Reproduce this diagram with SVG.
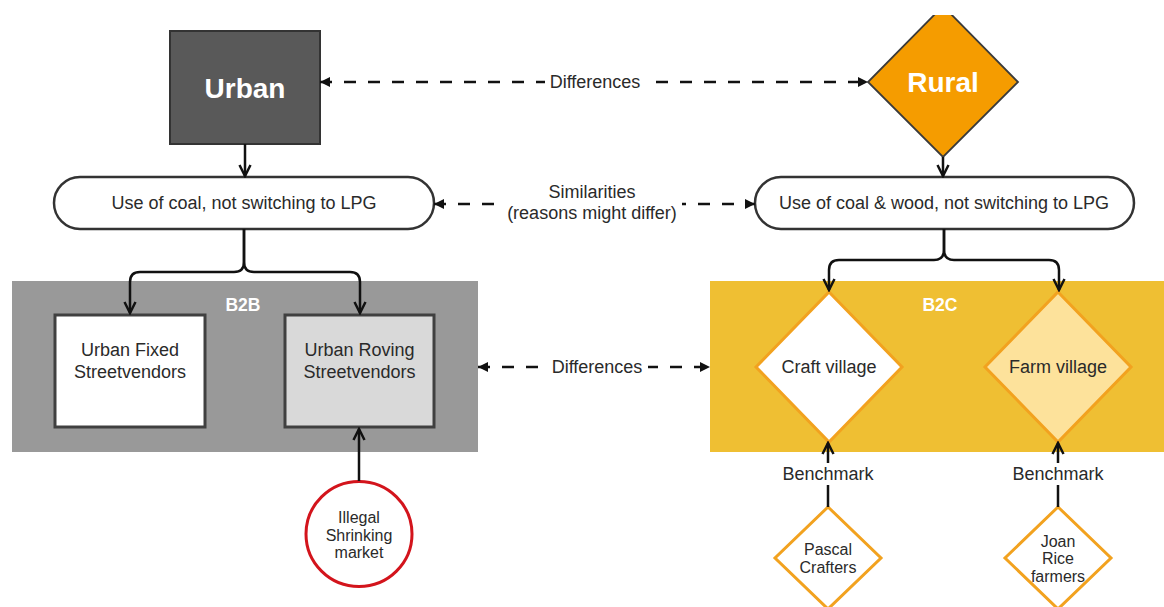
<svg xmlns="http://www.w3.org/2000/svg" width="1164" height="607" viewBox="0 0 1164 607">
<style>
  text { font-family: "Liberation Sans", Arial, sans-serif; fill: #2a2a2a; }
  .t18 { font-size: 18px; text-anchor: middle; }
  .t16 { font-size: 16px; text-anchor: middle; }
  .big { font-size: 28px; font-weight: bold; fill: #ffffff; text-anchor: middle; }
  .lab { font-size: 17.5px; font-weight: bold; fill: #ffffff; text-anchor: middle; }
  .solid { fill: none; stroke: #111; stroke-width: 2.5; marker-end: url(#open); }
  .dash { fill: none; stroke: #111; stroke-width: 2.5; stroke-dasharray: 12 12; marker-start: url(#tri); marker-end: url(#tri); }
  .pill { fill: #ffffff; stroke: #333; stroke-width: 2.5; }
  .box { stroke: #404040; stroke-width: 3; }
  .odia { stroke: #f2a21f; stroke-width: 3; }
  .bg { fill: #ffffff; }
</style>
<defs>
  <marker id="open" viewBox="0 0 14 14" refX="12" refY="7" markerWidth="14" markerHeight="14" markerUnits="userSpaceOnUse" orient="auto">
    <path d="M1,1.5 L12,7 L1,12.5" fill="none" stroke="#111" stroke-width="2.5"/>
  </marker>
  <marker id="tri" viewBox="0 0 10 10" refX="10" refY="5" markerWidth="10" markerHeight="11" markerUnits="userSpaceOnUse" orient="auto-start-reverse">
    <path d="M0,0 L10,5 L0,10 Z" fill="#111"/>
  </marker>
  <clipPath id="topclip"><rect x="0" y="15" width="1164" height="592"/></clipPath>
</defs>
<rect width="1164" height="607" fill="#ffffff"/>

<g id="b2b-container">
  <rect x="12" y="281" width="466" height="171" fill="#999999"/>
  <text class="lab" x="243" y="311">B2B</text>
</g>
<g id="b2c-container">
  <rect x="710" y="281" width="454" height="171" fill="#efbf33"/>
  <text class="lab" x="940" y="311">B2C</text>
</g>

<g id="urban">
  <rect x="170" y="31" width="150" height="113" fill="#595959" stroke="#333" stroke-width="2"/>
  <text class="big" x="245" y="98">Urban</text>
</g>
<g id="rural">
  <polygon points="943,6 1018,82 943,157 868,82" fill="#f59c00" stroke="#3a3a3a" stroke-width="1.8" clip-path="url(#topclip)"/>
  <text class="big" x="943" y="92">Rural</text>
</g>
<g id="urban-use">
  <rect class="pill" x="54" y="177" width="380" height="52" rx="26"/>
  <text class="t18" x="244" y="209">Use of coal, not switching to LPG</text>
</g>
<g id="rural-use">
  <rect class="pill" x="755" y="177" width="379" height="52" rx="26"/>
  <text class="t18" x="944" y="209">Use of coal &amp; wood, not switching to LPG</text>
</g>
<g id="urban-fixed">
  <rect class="box" x="55" y="315" width="150" height="112" fill="#ffffff"/>
  <text class="t18" x="130" y="356">Urban Fixed</text>
  <text class="t18" x="130" y="378">Streetvendors</text>
</g>
<g id="urban-roving">
  <rect class="box" x="285" y="315" width="149" height="112" fill="#d9d9d9"/>
  <text class="t18" x="359.5" y="356">Urban Roving</text>
  <text class="t18" x="359.5" y="378">Streetvendors</text>
</g>
<g id="illegal">
  <ellipse cx="359" cy="534" rx="53" ry="52.5" fill="#ffffff" stroke="#d3141c" stroke-width="3"/>
  <text class="t16" x="359" y="523">Illegal</text>
  <text class="t16" x="359" y="541">Shrinking</text>
  <text class="t16" x="359" y="558">market</text>
</g>
<g id="craft-village">
  <polygon class="odia" points="829,292 902,367 829,442 756,367" fill="#ffffff"/>
  <text class="t18" x="829" y="373">Craft village</text>
</g>
<g id="farm-village">
  <polygon class="odia" points="1058,292 1131,367 1058,442 985,367" fill="#fde29b"/>
  <text class="t18" x="1058" y="373">Farm village</text>
</g>
<g id="pascal">
  <polygon class="odia" points="828,507 881,558 828,609 775,558" fill="#ffffff"/>
  <text class="t16" x="828" y="555">Pascal</text>
  <text class="t16" x="828" y="573">Crafters</text>
</g>
<g id="joan">
  <polygon class="odia" points="1058,507 1111,558 1058,609 1005,558" fill="#ffffff"/>
  <text class="t16" x="1058" y="547">Joan</text>
  <text class="t16" x="1058" y="564">Rice</text>
  <text class="t16" x="1058" y="582">farmers</text>
</g>

<g id="connectors">
  <path class="solid" d="M245,144 V176"/>
  <path class="solid" d="M943,157 V176"/>
  <path class="solid" d="M244,229 V262 Q244,272 234,272 H140 Q130,272 130,282 V313"/>
  <path class="solid" d="M244,229 V262 Q244,272 254,272 H350 Q360,272 360,282 V313"/>
  <path class="solid" d="M944,229 V250 Q944,260 934,260 H839 Q829,260 829,270 V290"/>
  <path class="solid" d="M944,229 V250 Q944,260 954,260 H1049 Q1059,260 1059,270 V290"/>
  <path class="solid" d="M359,481 V429"/>
  <path class="solid" d="M828,507 V443"/>
  <path class="solid" d="M1058,507 V443"/>
  <path class="dash" d="M320,82 H868"/>
  <path class="dash" d="M434,204 H755"/>
  <path class="dash" d="M478,367 H710"/>
  <rect class="bg" x="545" y="70" width="103" height="24"/>
  <text class="t18" x="595" y="88">Differences</text>
  <rect class="bg" x="498" y="183" width="184" height="40"/>
  <text class="t18" x="592" y="198">Similarities</text>
  <text class="t18" x="592" y="219">(reasons might differ)</text>
  <rect class="bg" x="545" y="355" width="103" height="24"/>
  <text class="t18" x="597" y="373">Differences</text>
  <rect class="bg" x="780" y="463" width="96" height="22"/>
  <text class="t18" x="828" y="480">Benchmark</text>
  <rect class="bg" x="1010" y="463" width="96" height="22"/>
  <text class="t18" x="1058" y="480">Benchmark</text>
</g>
</svg>
